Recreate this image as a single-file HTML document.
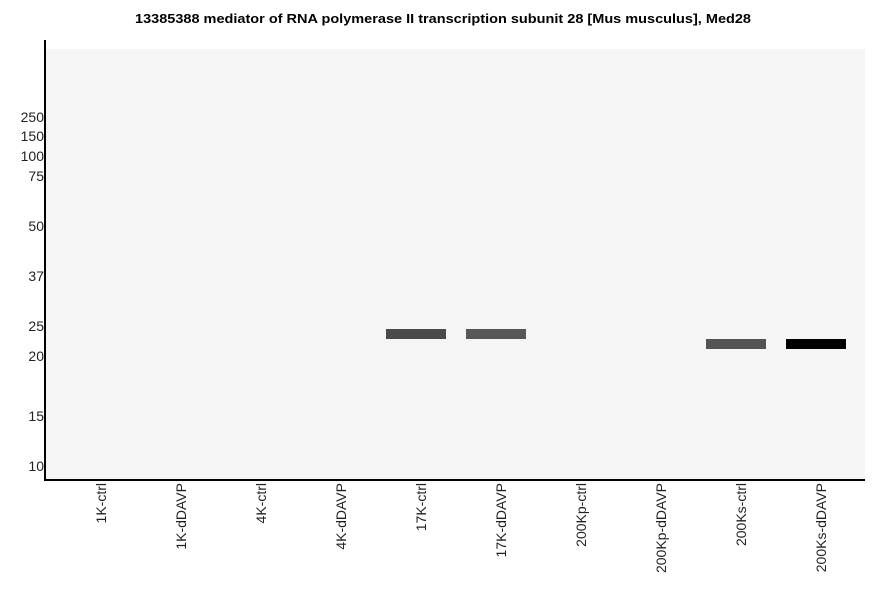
<!DOCTYPE html>
<html><head><style>body{margin:0;background:#fff}svg{display:block}text{font-family:"Liberation Sans",Arial,sans-serif}</style></head>
<body>
<svg width="886" height="595" viewBox="0 0 886 595">
<text x="135" y="23" font-size="13" font-weight="bold" textLength="616" lengthAdjust="spacingAndGlyphs">13385388 mediator of RNA polymerase II transcription subunit 28 [Mus musculus], Med28</text>
<rect x="46" y="49" width="819" height="430" fill="#f5f5f5"/>
<rect x="44" y="40" width="2" height="441" fill="#000"/>
<rect x="44" y="479" width="821" height="2" fill="#000"/>
<g font-size="14" text-anchor="end" fill="#222">
<text x="44" y="122">250</text><text x="44" y="141">150</text><text x="44" y="161">100</text><text x="44" y="181">75</text>
<text x="44" y="231">50</text><text x="44" y="281">37</text><text x="44" y="331">25</text><text x="44" y="361">20</text>
<text x="44" y="421">15</text><text x="44" y="471">10</text>
</g>
<rect x="386" y="329" width="60" height="10" fill="#4a4a4a"/>
<rect x="466" y="329" width="60" height="10" fill="#575757"/>
<rect x="706" y="339" width="60" height="10" fill="#545454"/>
<rect x="786" y="339" width="60" height="10" fill="#000"/>
<g font-size="14" text-anchor="end" fill="#222">
<text transform="translate(106,483) rotate(-90)">1K-ctrl</text>
<text transform="translate(186,483) rotate(-90)">1K-dDAVP</text>
<text transform="translate(266,483) rotate(-90)">4K-ctrl</text>
<text transform="translate(346,483) rotate(-90)">4K-dDAVP</text>
<text transform="translate(426,483) rotate(-90)">17K-ctrl</text>
<text transform="translate(506,483) rotate(-90)">17K-dDAVP</text>
<text transform="translate(586,483) rotate(-90)">200Kp-ctrl</text>
<text transform="translate(666,483) rotate(-90)">200Kp-dDAVP</text>
<text transform="translate(746,483) rotate(-90)">200Ks-ctrl</text>
<text transform="translate(826,483) rotate(-90)">200Ks-dDAVP</text>
</g>
</svg>
</body></html>
